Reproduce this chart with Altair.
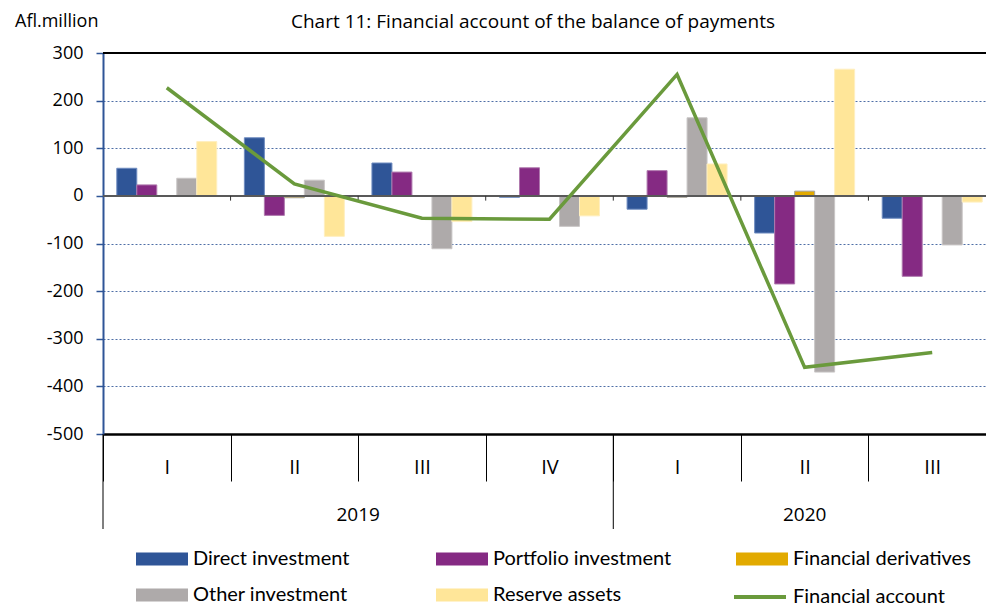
import altair as alt
import pandas as pd

# ---- data ----
quarters = ["I", "II", "III", "IV", "I", "II", "III"]
years = ["2019", "2019", "2019", "2019", "2020", "2020", "2020"]
series = ["Direct investment", "Portfolio investment", "Financial derivatives",
          "Other investment", "Reserve assets"]
direct = [58, 122, 69, -3, -28, -78, -47]
portfolio = [23, -41, 50, 59, 53, -185, -169]
derivatives = [-1, -4, -1, -1, -3, 10, -1]
other = [37, 33, -111, -64, 164, -370, -103]
reserve = [114, -85, -54, -42, 67, 266, -13]
financial_account = [227, 25, -47, -49, 255, -360, -329]
line_name = "Financial account"

fill_colors = ["#2F5597", "#852A83", "#E2AA00", "#AEAAAA", "#FFE699"]
outline_colors = ["#6F8CC0", "#B07AAE", "#A6A6A6", "#C9C6C6", "#FFEFC0"]
line_color = "#6A9A3C"

W, H = 893, 381
FONT = "Open Sans"
LFONT = "Lato"

cats = [f"{y} {q}" for y, q in zip(years, quarters)]
values = [direct, portfolio, derivatives, other, reserve]

bar_df = pd.DataFrame([
    {"cat": c, "series": s, "value": v[i]}
    for s, v in zip(series, values)
    for i, c in enumerate(cats)
])
line_df = pd.DataFrame({"cat": cats, "value": financial_account, "name": line_name})
sep_df = pd.DataFrame({"cat": [c for c, q in zip(cats, quarters) if q == "I"]})
tick0_df = pd.DataFrame({"cat": cats[1:]})

xsort = cats

bars = alt.Chart(bar_df).mark_bar(strokeWidth=1).encode(
    x=alt.X("cat:N", sort=xsort,
            scale=alt.Scale(domain=cats, paddingInner=0, paddingOuter=0),
            axis=alt.Axis(title=None, orient="bottom", labelAngle=0,
                          labelExpr="split(datum.value, ' ')[1]",
                          labelFont=FONT, labelFontSize=20, labelColor="black",
                          tickBand="extent", tickSize=47, tickColor="black", tickWidth=1,
                          domainColor="black", domainWidth=2.5, labelPadding=-24,
                          grid=False)),
    xOffset=alt.XOffset("series:N", sort=series,
                        scale=alt.Scale(domain=series, paddingOuter=0.69, paddingInner=0)),
    y=alt.Y("value:Q", scale=alt.Scale(domain=[-500, 300], nice=False),
            axis=alt.Axis(title=None, values=list(range(-500, 301, 100)),
                          labelExpr="replace(datum.label, '\u2212', '-')",
                          grid=True, gridColor="#2F5597", gridDash=[2, 2], gridWidth=1,
                          gridOpacity=0.85,
                          domainColor="#2F5597", domainWidth=2,
                          tickColor="#2F5597", tickSize=7, tickWidth=1.5,
                          labelFont=FONT, labelFontSize=18, labelColor="black",
                          labelPadding=13)),
    fill=alt.Fill("series:N", scale=alt.Scale(domain=series, range=fill_colors),
                  legend=alt.Legend(title=None, orient="none", legendX=33, legendY=480,
                                    direction="horizontal", columns=3,
                                    symbolType="M-1,-0.25H1V0.25H-1Z", symbolSize=2704,
                                    symbolStrokeWidth=0, labelFont=LFONT,
                                    labelFontSize=20, labelColor="black", labelOffset=5,
                                    columnPadding=64, rowPadding=-8, gridAlign="all",
                                    labelLimit=400)),
    stroke=alt.Stroke("series:N", scale=alt.Scale(domain=series, range=outline_colors),
                      legend=None),
)

zero_rule = alt.Chart(pd.DataFrame({"v": [0]})).mark_rule(
    color="#595959", strokeWidth=2).encode(y="v:Q")

top_rule = alt.Chart(pd.DataFrame({"v": [300]})).mark_rule(
    color="black", strokeWidth=2).encode(y="v:Q")

zero_ticks = alt.Chart(tick0_df).mark_rule(color="#333333", strokeWidth=1).encode(
    x=alt.X("cat:N", sort=xsort, bandPosition=0),
    y=alt.datum(0), y2=alt.datum(-10))

long_sep = alt.Chart(sep_df).mark_rule(color="black", strokeWidth=1).encode(
    x=alt.X("cat:N", sort=xsort, bandPosition=0),
    y=alt.value(H), y2=alt.value(H + 95))

line = alt.Chart(line_df).mark_line(strokeWidth=3.5).encode(
    x=alt.X("cat:N", sort=xsort, bandPosition=0.5),
    y="value:Q",
    color=alt.Color("name:N", scale=alt.Scale(domain=[line_name], range=[line_color]),
                    legend=alt.Legend(title=None, orient="none", legendX=629, legendY=516,
                                      symbolType="stroke", symbolSize=2704,
                                      symbolStrokeWidth=4, labelFont=LFONT,
                                      labelFontSize=20, labelColor="black", labelOffset=5,
                                      labelLimit=400)),
)

year2019 = alt.Chart(pd.DataFrame({"cat": ["2019 III"], "label": ["2019"]})).mark_text(
    font=FONT, fontSize=19, color="black", baseline="middle").encode(
    x=alt.X("cat:N", sort=xsort, bandPosition=0), y=alt.value(H + 81), text="label:N")

year2020 = alt.Chart(pd.DataFrame({"cat": ["2020 II"], "label": ["2020"]})).mark_text(
    font=FONT, fontSize=19, color="black", baseline="middle").encode(
    x=alt.X("cat:N", sort=xsort, bandPosition=0.5), y=alt.value(H + 81), text="label:N")

title_txt = alt.Chart(pd.DataFrame({"t": ["Chart 11: Financial account of the balance of payments"]})).mark_text(
    font=FONT, fontSize=19, color="black", baseline="alphabetic", align="center").encode(
    x=alt.value(430), y=alt.value(-25), text="t:N")

unit_txt = alt.Chart(pd.DataFrame({"t": ["Afl.million"]})).mark_text(
    font=FONT, fontSize=18, color="black", baseline="alphabetic", align="left").encode(
    x=alt.value(-88), y=alt.value(-26), text="t:N")

chart = alt.layer(
    bars, zero_rule, zero_ticks, top_rule, long_sep, line, year2019, year2020,
    title_txt, unit_txt
).resolve_scale(
    color="independent"
).properties(
    width=W, height=H,
    autosize=alt.AutoSizeParams(type="none"),
    padding={"left": 95, "top": 45, "right": -10, "bottom": 174},
).configure_view(stroke=None)

chart.save("out.html", embed_options={"renderer": "svg", "actions": False})
